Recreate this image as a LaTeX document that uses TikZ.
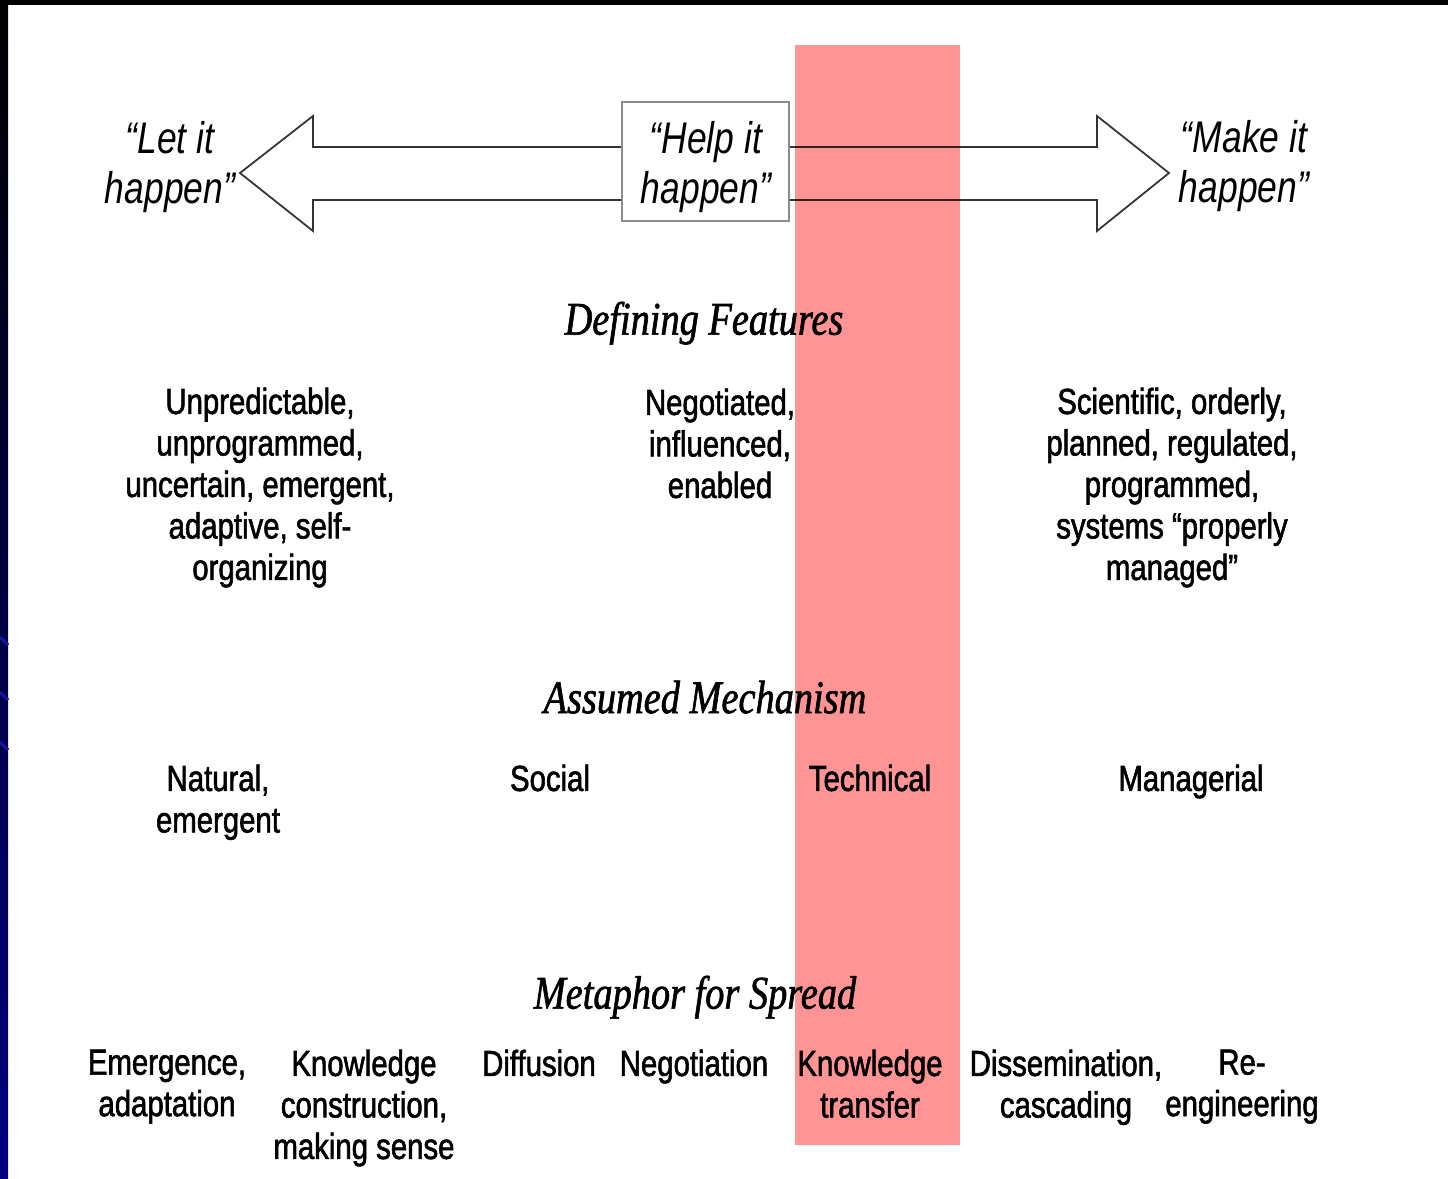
\documentclass[tikz,border=0pt]{standalone}
\usepackage{fontspec}
\usepackage{tikz}
\newfontfamily\bodyfont{Liberation Sans}[FakeStretch=0.81,FakeBold=1.6]
\newfontfamily\endsfont{Liberation Sans}[FakeStretch=0.8]
\newfontfamily\headfont{Liberation Serif}[FakeStretch=0.82,FakeBold=1.3]
\definecolor{navy}{RGB}{0,0,128}
\definecolor{arcblue}{RGB}{20,20,150}

\begin{document}
\begin{tikzpicture}[x=0.01cm, y=-0.01cm,
  body/.style={font=\bodyfont\fontsize{10.3}{11.8}\selectfont, align=center, anchor=north, inner sep=0pt},
  head/.style={font=\headfont\itshape\fontsize{13.3}{15}\selectfont, anchor=north, inner sep=0pt},
  ends/.style={font=\endsfont\itshape\fontsize{12.6}{14.3}\selectfont, align=center, inner sep=0pt},
  shaft/.style={draw=black!80, line width=0.5pt, line join=miter}]
  \useasboundingbox (0,0) rectangle (1448,1179);
  \fill[white] (0,0) rectangle (1448,1179);
  % slide frame
  \fill[black] (0,0) rectangle (1448,5);
  \shade[top color=black, middle color=black, bottom color=navy] (0,0) rectangle (8,1179);
  \foreach \y in {637,692,742}
    \draw[arcblue, line width=1pt] (0,\y) -- (8,\y+8);

  % the continuum
  \node[draw=black!45, line width=0.6pt, minimum width=1.67cm, minimum height=1.19cm] (help) at (705.5,161.5) {};
  \node[ends] (helptext) at (706,167) {\textquotedblleft Help it\\ happen\textquotedblright};
  \draw[shaft] (help.west |- 0,147) -- (313,147) -- (313,116) -- (240,173) -- (313,231) -- (313,200) -- (help.west |- 0,200);
  \draw[shaft] (help.east |- 0,147) -- (1097,147) -- (1097,116) -- (1169,173) -- (1097,231) -- (1097,200) -- (help.east |- 0,200);
  \node[ends] (letit) at (170,167) {\textquotedblleft Let it\\ happen\textquotedblright};
  \node[ends] (makeit) at (1244,166) {\textquotedblleft Make it\\ happen\textquotedblright};

  % defining features
  \node[head] (features) at (704,301) {Defining Features};
  \node[body] (unpred) at (260,387) {Unpredictable,\\ unprogrammed,\\ uncertain, emergent,\\ adaptive, self-\\ organizing};
  \node[body] (negot) at (720,388) {Negotiated,\\ influenced,\\ enabled};
  \node[body] (scient) at (1172,387) {Scientific, orderly,\\ planned, regulated,\\ programmed,\\ systems \textquotedblleft properly\\ managed\textquotedblright};

  % assumed mechanism
  \node[head] (mechanism) at (705,680) {Assumed Mechanism};
  \node[body] (natural) at (218,764) {Natural,\\ emergent};
  \node[body] (social) at (550,764) {Social};
  \node[body] (technical) at (870,764) {Technical};
  \node[body] (managerial) at (1191,764) {Managerial};

  % metaphor for spread
  \node[head] (metaphor) at (695,975) {Metaphor for Spread};
  \node[body] (emerg) at (167,1049) {Emergence,\\ adaptation};
  \node[body] (construct) at (364,1049) {Knowledge\\ construction,\\ making sense};
  \node[body] (diffusion) at (539,1049) {Diffusion};
  \node[body] (negotiation) at (694,1049) {Negotiation};
  \node[body] (transfer) at (870,1049) {Knowledge\\ transfer};
  \node[body] (dissem) at (1066,1049) {Dissemination,\\ cascading};
  \node[body] (reeng) at (1242,1049) {Re-\\ engineering};

  % highlighted band
  \fill[red!42, blend mode=multiply] (795,45) rectangle (960,1145);
\end{tikzpicture}
\end{document}
